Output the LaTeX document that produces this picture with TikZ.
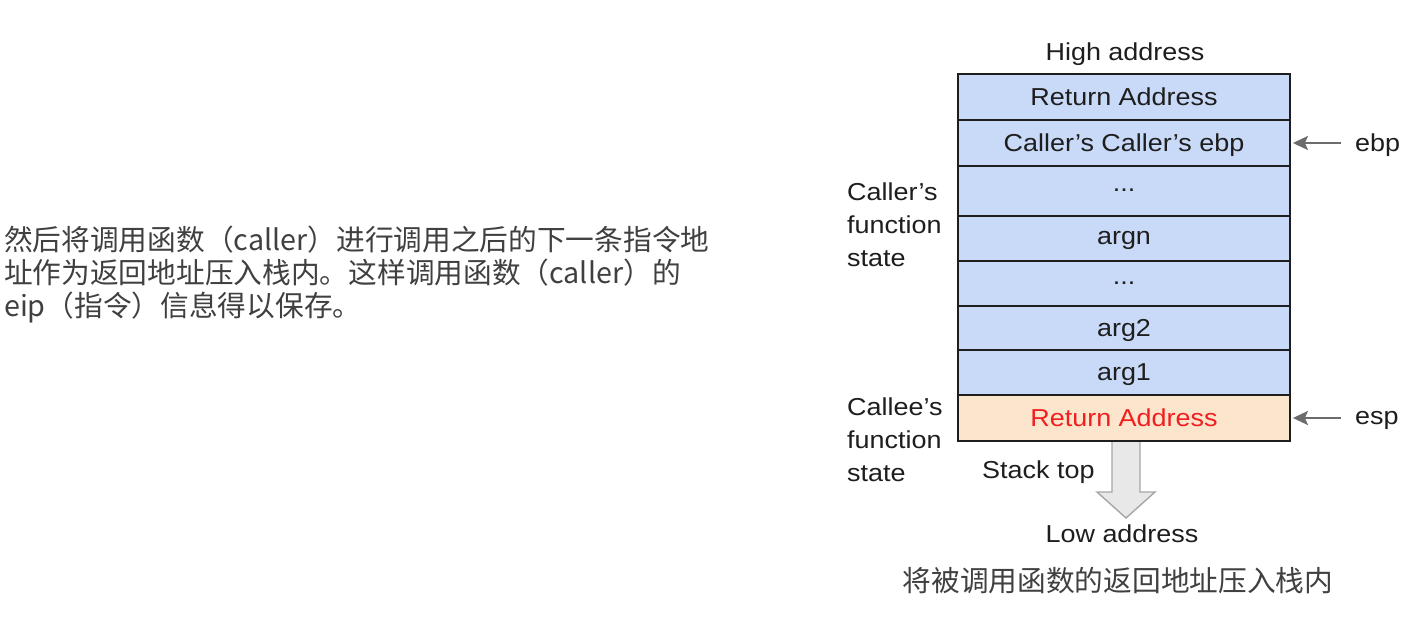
\documentclass[tikz,border=0pt]{standalone}
\usepackage{fontspec}
\setmainfont{Liberation Sans}[FakeStretch=1.1]
\newfontfamily\cjk{Noto Sans CJK SC}
\usetikzlibrary{arrows.meta}
\definecolor{cellblue}{HTML}{C9DAF8}
\definecolor{cellorange}{HTML}{FCE5CD}
\definecolor{inkdark}{HTML}{1E1E1E}
\definecolor{cjkgray}{HTML}{404040}
\definecolor{retred}{HTML}{F02020}
\tikzset{
  cell/.style={draw=inkdark, line width=1.8pt, fill=cellblue, minimum width=332pt,
    inner sep=0pt, text=inkdark, font=\fontsize{24.5}{28}\selectfont, text depth=1pt},
  lbl/.style={inner sep=0pt, text=inkdark, font=\fontsize{24.5}{33}\selectfont, align=left},
  ptr/.style={draw=gray!85!black, line width=2.2pt, -{Stealth[length=15pt,width=14pt,inset=3pt]}},
  bigarrow/.style={draw=gray!70, fill=gray!18, line width=1.4pt, line join=miter},
  cjktext/.style={inner sep=0pt, text=cjkgray, font=\cjk\fontsize{28.7}{33}\selectfont, align=left}
}
\begin{document}
\begin{tikzpicture}[x=1pt,y=-1pt]
\useasboundingbox (0,0) rectangle (1402,634);
\fill[white] (0,0) rectangle (1402,634);

% left paragraph
\node[cjktext, anchor=west] (para) at (4,274) {然后将调用函数（caller）进行调用之后的下一条指令地\\址作为返回地址压入栈内。这样调用函数（caller）的\\eip（指令）信息得以保存。};

% stack cells
\node[cell, minimum height=46pt] (r1) at (1124,97) {Return Address};
\node[cell, minimum height=46pt] (r2) at (1124,143) {Caller’s Caller’s ebp};
\node[cell, minimum height=50pt] (r3) at (1124,191) {...};
\node[cell, minimum height=45pt] (r4) at (1124,238.5) {argn};
\node[cell, minimum height=45pt] (r5) at (1124,283.5) {...};
\node[cell, minimum height=44pt] (r6) at (1124,328) {arg2};
\node[cell, minimum height=45pt] (r7) at (1124,372.5) {arg1};
\node[cell, minimum height=46pt, fill=cellorange, text=retred] (r8) at (1124,418) {Return Address};

% labels
\node[lbl] (high) at (1125,54) {High address};
\node[lbl, anchor=west] (callerst) at (847,225) {Caller’s\\function\\state};
\node[lbl, anchor=west] (calleest) at (847,440) {Callee’s\\function\\state};
\node[lbl, anchor=west] (stacktop) at (982,472) {Stack top};
\node[lbl] (low) at (1122,534) {Low address};
\node[lbl, anchor=west] (ebp) at (1355,145) {ebp};
\node[lbl, anchor=west] (esp) at (1355,420) {esp};

% pointers
\draw[ptr, shorten <=14pt, shorten >=2pt] (ebp.west |- r2.east) -- (r2.east);
\draw[ptr, shorten <=14pt, shorten >=2pt] (esp.west |- r8.east) -- (r8.east);

% growth arrow
\draw[bigarrow] (1112,442) -- (1112,492) -- (1097,492) -- (1126,518) -- (1155,492) -- (1140,492) -- (1140,442);

% caption
\node[cjktext] (caption) at (1118,581) {将被调用函数的返回地址压入栈内};
\end{tikzpicture}
\end{document}
